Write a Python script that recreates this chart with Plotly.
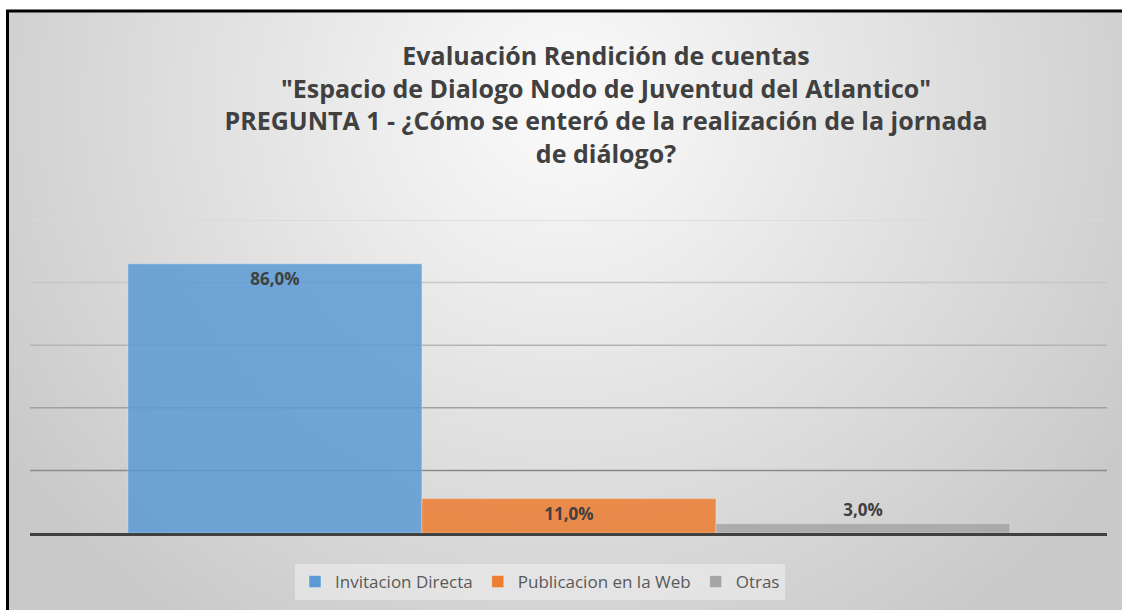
import base64
import plotly.graph_objects as go

# ---- data ----
series_names = ["Invitacion Directa", "Publicacion en la Web", "Otras"]
series_values = [86.0, 11.0, 3.0]
series_colors = ["#5B9BD5", "#ED7D31", "#A5A5A5"]
label_positions = ["inside", "inside", "outside"]
grid_values = [20, 40, 60, 80, 100]
grid_colors = ["#8a8a8a", "#a0a0a0", "#b4b4b4", "#c6c6c6", "#d8d8d8"]
title_lines = [
    "Evaluación Rendición de cuentas",
    "\"Espacio de Dialogo Nodo de Juventud del Atlantico\"",
    "PREGUNTA 1 - ¿Cómo se enteró de la realización de la jornada",
    "de diálogo?",
]

W, H = 1122, 610
ML, MR, MT, MB = 30, 15, 220, 77
PW, PH = W - ML - MR, H - MT - MB


def px_x(px):  # figure pixel -> plot-area paper x
    return (px - ML) / PW


def px_y(py):  # figure pixel (from top) -> plot-area paper y
    return (H - MB - py) / PH


fig = go.Figure()
for i, (name, val, col, pos) in enumerate(zip(series_names, series_values, series_colors, label_positions)):
    fig.add_trace(go.Bar(
        x=[i], y=[val], name=name, width=1,
        marker=dict(color=col, opacity=0.85, line=dict(color="rgba(255,255,255,0.35)", width=1)),
        texttemplate="%{y:.1f}%", textposition=pos, insidetextanchor="end",
        textfont=dict(family="Open Sans", size=17, color="#404040", weight="bold"),
        constraintext="none", cliponaxis=False, hoverinfo="skip",
    ))

# gradient background as svg image
svg = ("<svg xmlns='http://www.w3.org/2000/svg' width='1114' height='599' preserveAspectRatio='none'>"
       "<defs><radialGradient id='g' cx='0.5' cy='0.15' r='0.6' "
       "gradientTransform='translate(0.5 0.15) scale(1 1.8) translate(-0.5 -0.15)'>"
       "<stop offset='0' stop-color='#fbfbfb'/><stop offset='1' stop-color='#c9c9c9'/>"
       "</radialGradient></defs><rect width='100%' height='100%' fill='url(#g)'/></svg>")
src = "data:image/svg+xml;base64," + base64.b64encode(svg.encode()).decode()

shapes = []
for gv, gc in zip(grid_values, grid_colors):
    shapes.append(dict(type="line", xref="x domain", x0=0, x1=1, yref="y", y0=gv, y1=gv,
                       line=dict(color=gc, width=1.5), layer="below"))
# frame (top and left edges)
shapes.append(dict(type="line", xref="paper", yref="paper", x0=px_x(6), x1=px_x(W + 5),
                   y0=px_y(11), y1=px_y(11), line=dict(color="black", width=3)))
shapes.append(dict(type="line", xref="paper", yref="paper", x0=px_x(7.5), x1=px_x(7.5),
                   y0=px_y(H + 5), y1=px_y(10), line=dict(color="black", width=3)))

fig.update_layout(
    width=W, height=H,
    paper_bgcolor="white", plot_bgcolor="rgba(0,0,0,0)",
    margin=dict(l=ML, r=MR, t=MT, b=MB),
    separators=",.",
    barmode="overlay",
    title=dict(text="<br>".join(title_lines), x=606 / W, xanchor="center", xref="container",
               y=1 - 65 / H, yanchor="top", yref="container",
               font=dict(family="Open Sans", size=25, color="#404040", weight="bold")),
    xaxis=dict(range=[-0.833, 2.830], showgrid=False, zeroline=False, showticklabels=False,
               ticks="", showline=True, linecolor="#404040", linewidth=3, fixedrange=True),
    yaxis=dict(range=[0, 100], showgrid=False, zeroline=False, showticklabels=False,
               ticks="", showline=False, fixedrange=True),
    legend=dict(orientation="h", xref="container", yref="container",
                x=540 / W, xanchor="center", y=(H - 582) / H, yanchor="middle",
                bgcolor="rgba(240,240,240,0.55)",
                font=dict(family="Open Sans", size=17, color="#595959")),
    images=[dict(source=src, xref="paper", yref="paper", x=px_x(8), y=px_y(11),
                 sizex=(W - 8) / PW, sizey=(H - 11) / PH, xanchor="left", yanchor="top",
                 sizing="stretch", layer="below")],
    shapes=shapes,
)

fig.write_html("out.html", config={"displayModeBar": False},
               post_script="document.body.style.margin='0';")
